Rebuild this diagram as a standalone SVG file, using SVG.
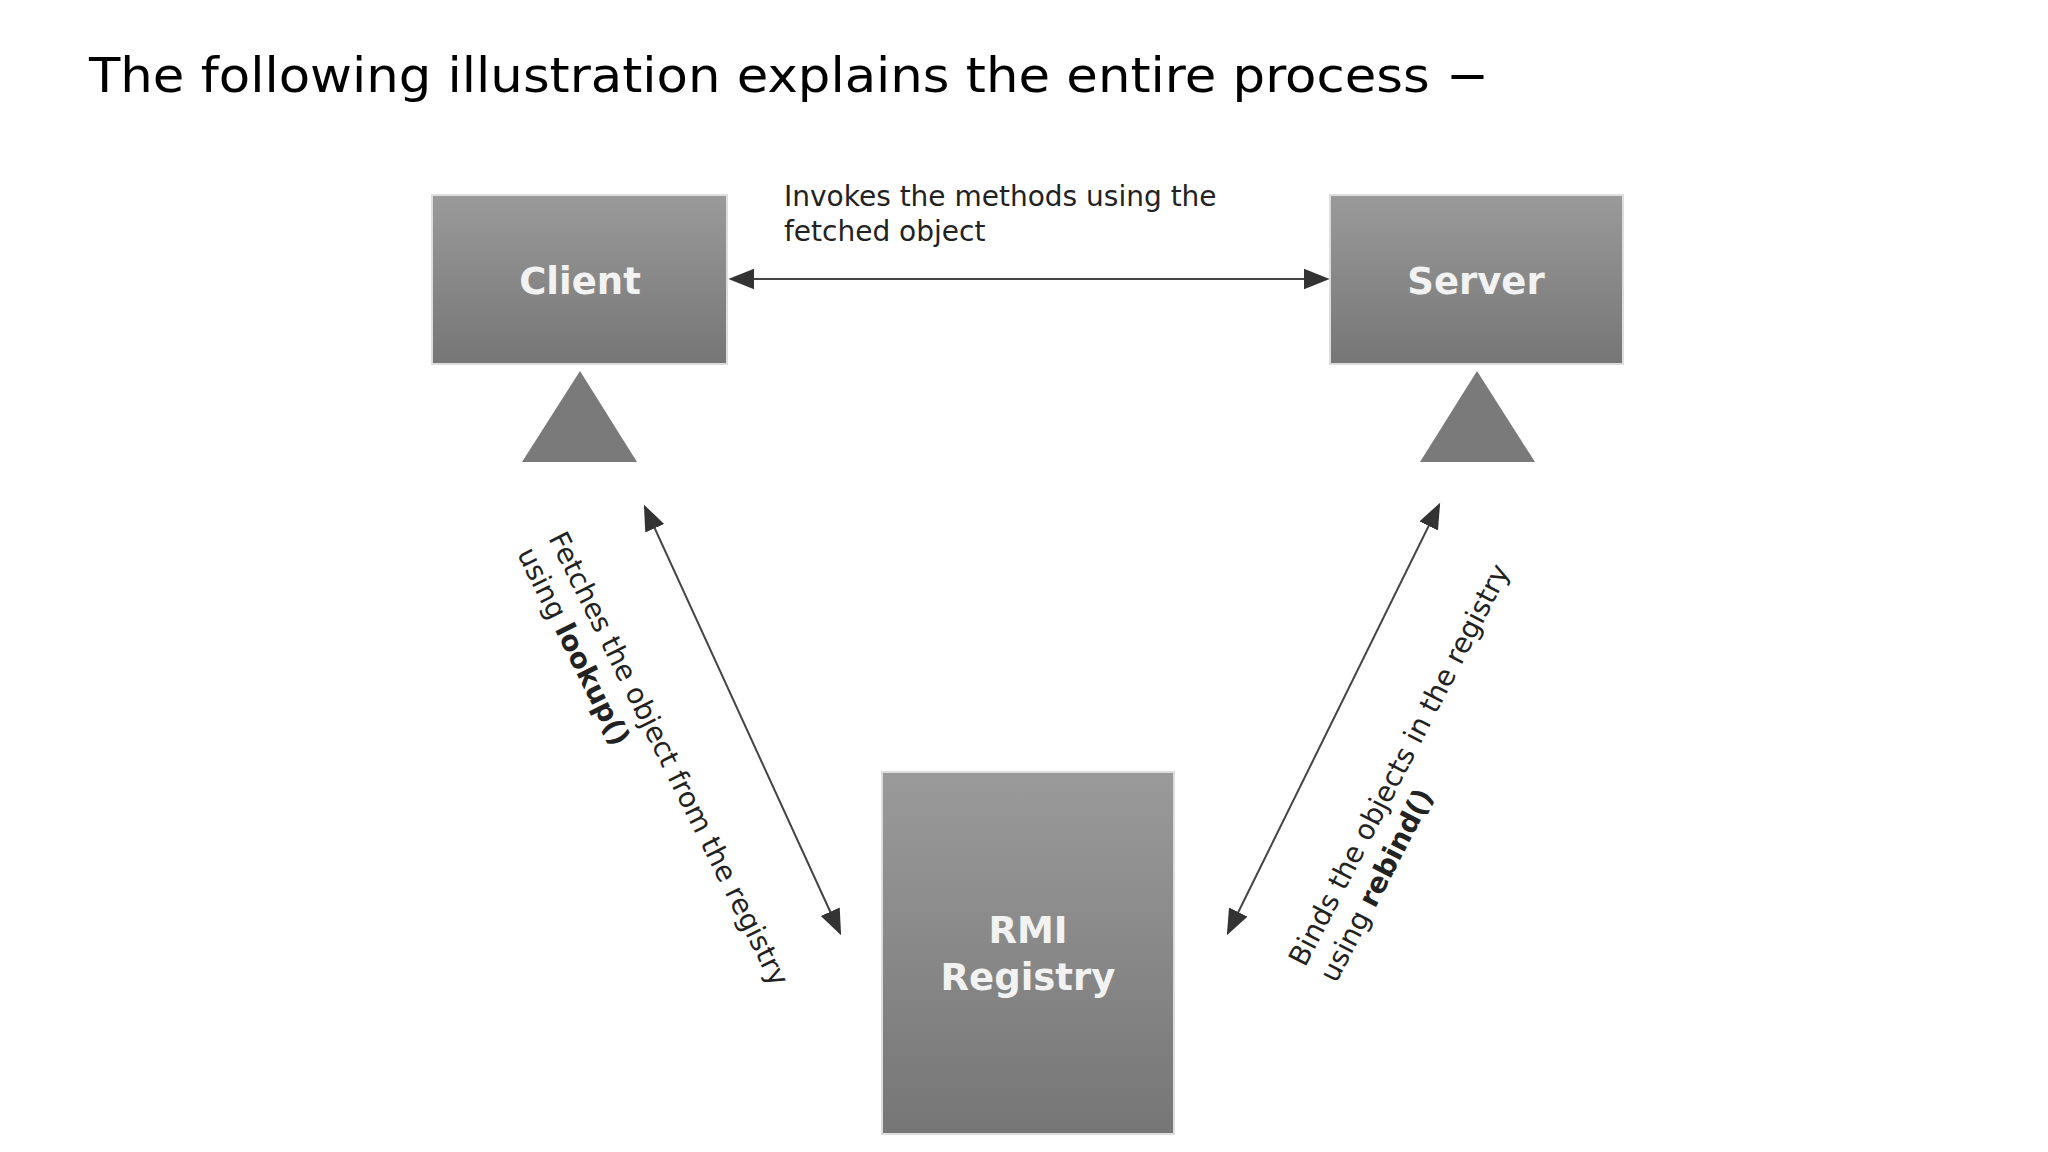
<svg xmlns="http://www.w3.org/2000/svg" width="2048" height="1152" viewBox="0 0 2048 1152">
<defs>
<linearGradient id="g" x1="0" y1="0" x2="0" y2="1"><stop offset="0" stop-color="#9a9a9a"/><stop offset="1" stop-color="#767676"/></linearGradient>
<marker id="ah" viewBox="0 0 10 10" refX="9" refY="5" markerWidth="9" markerHeight="9" orient="auto-start-reverse" markerUnits="userSpaceOnUse"><path d="M0,0L10,5L0,10z" fill="#333"/></marker>
<marker id="ah2" viewBox="0 0 10 10" refX="9" refY="5" markerWidth="26" markerHeight="26" orient="auto-start-reverse" markerUnits="userSpaceOnUse"><path d="M0,1L10,5L0,9z" fill="#333"/></marker>
<style>
.box{fill:url(#g);stroke:#ddd;stroke-width:2}
.bl{font-family:"DejaVu Sans",sans-serif;font-weight:bold;font-size:37px;fill:#f2f2f2;text-anchor:middle}
.lb{font-family:"DejaVu Sans",sans-serif;font-size:28px;fill:#222}
.ln{stroke:#444;stroke-width:2;fill:none;marker-start:url(#ah2);marker-end:url(#ah2)}
.tri{fill:#7a7a7a}
</style>
</defs>
<rect width="2048" height="1152" fill="#fff"/>
<text x="89" y="92" font-family="DejaVu Sans,sans-serif" font-size="48" fill="#000" textLength="1400" lengthAdjust="spacingAndGlyphs">The following illustration explains the entire process −</text>
<g id="client"><rect class="box" x="432" y="195" width="295" height="169"/><text class="bl" x="580" y="294">Client</text></g>
<g id="server"><rect class="box" x="1330" y="195" width="293" height="169"/><text class="bl" x="1476" y="294">Server</text></g>
<g id="rmi"><rect class="box" x="882" y="772" width="292" height="362"/><text class="bl" x="1028" y="943">RMI</text><text class="bl" x="1028" y="990">Registry</text></g>
<g id="clientTri"><polygon class="tri" points="580,371 522,462 637,462"/></g>
<g id="serverTri"><polygon class="tri" points="1477,371 1420,462 1535,462"/></g>
<g id="connectors">
<line class="ln" x1="731" y1="279" x2="1327" y2="279"/>
<line class="ln" x1="645" y1="507" x2="840" y2="933"/>
<line class="ln" x1="1439" y1="505" x2="1228" y2="933"/>
</g>
<g id="labels">
<text class="lb" x="784" y="206">Invokes the methods using the</text>
<text class="lb" x="784" y="241">fetched object</text>
<g transform="translate(548,538) rotate(63.5)"><text class="lb" x="0" y="0">Fetches the object from the registry</text><text class="lb" x="0" y="35">using <tspan font-weight="bold">lookup()</tspan></text></g>
<g transform="translate(1305,968) rotate(-62.7)"><text class="lb" x="0" y="0">Binds the objects in the registry</text><text class="lb" x="0" y="35">using <tspan font-weight="bold">rebind()</tspan></text></g>
</g>
</svg>
